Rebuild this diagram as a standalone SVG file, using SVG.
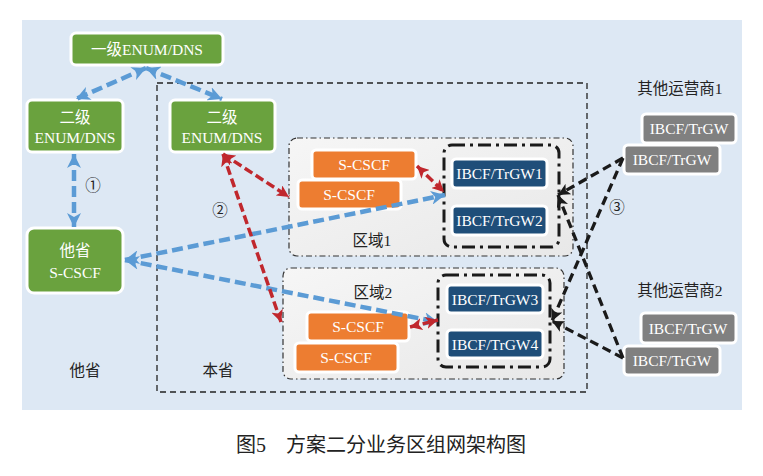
<svg xmlns="http://www.w3.org/2000/svg" width="763" height="476" viewBox="0 0 763 476">
<style>
.t{fill:#fff;font-size:15.5px;text-anchor:middle}
.d{fill:#222;font-size:15.5px;text-anchor:middle}
.g{fill:#6aa23e;stroke:#fff;stroke-width:3}
.o{fill:#ed7d31;stroke:#fff;stroke-width:3}
.b{fill:#1f4e79;stroke:#fff;stroke-width:3}
.y{fill:#808080;stroke:#fff;stroke-width:3}
.region{fill:url(#rg);stroke:#333;stroke-width:1.2;stroke-dasharray:6 3 1.5 3}
.grp{fill:none;stroke:#1a1a1a;stroke-width:3;stroke-dasharray:13 5 3 5}
.blue{stroke:#5b9bd5;stroke-width:4.5;stroke-dasharray:11 5;fill:none}
.red{stroke:#c0272d;stroke-width:3.5;stroke-dasharray:9 4;fill:none}
.blk{stroke:#1a1a1a;stroke-width:3.3;stroke-dasharray:9 5;fill:none}
</style>
<defs>
<linearGradient id="rg" x1="0" y1="0" x2="1" y2="1">
<stop offset="0" stop-color="#f6f6f6"/><stop offset="1" stop-color="#e8e8e8"/>
</linearGradient>
<marker id="ab" markerUnits="userSpaceOnUse" markerWidth="16" markerHeight="14" refX="14" refY="7" orient="auto-start-reverse"><path d="M0,0 L14,7 L0,14 L4,7 Z" fill="#5b9bd5"/></marker>
<marker id="ar" markerUnits="userSpaceOnUse" markerWidth="14" markerHeight="12" refX="12" refY="6" orient="auto-start-reverse"><path d="M0,0 L12,6 L0,12 L3,6 Z" fill="#c0272d"/></marker>
<marker id="ak" markerUnits="userSpaceOnUse" markerWidth="14" markerHeight="12" refX="12" refY="6" orient="auto-start-reverse"><path d="M0,0 L12,6 L0,12 L3,6 Z" fill="#1a1a1a"/></marker>
</defs>
<g font-family="'Liberation Serif', 'Noto Sans CJK SC', serif">
<rect x="22" y="20" width="720" height="390" fill="#dde8f4"/>
<rect x="157" y="83" width="430" height="309" fill="none" stroke="#222" stroke-width="1.3" stroke-dasharray="6 4"/>
<text class="d" x="85" y="376">他省</text>
<text class="d" x="218" y="376">本省</text>

<g id="region1">
<rect class="region" x="289" y="138" width="284" height="118" rx="8"/>
<text class="d" x="372" y="246">区域1</text>
</g>
<g id="region2">
<rect class="region" x="283" y="268" width="281" height="111" rx="8"/>
<text class="d" x="373" y="298">区域2</text>
</g>
<g id="grp1"><rect class="grp" x="444" y="145" width="115" height="102" rx="8"/></g>
<g id="grp2"><rect class="grp" x="438" y="275" width="112" height="92" rx="8"/></g>

<g id="enum1"><rect class="g" x="71" y="33" width="152" height="32" rx="5"/><text class="t" x="147" y="55">一级ENUM/DNS</text></g>
<g id="enum2a"><rect class="g" x="27" y="100" width="96" height="52" rx="5"/><text class="t" x="75" y="123">二级</text><text class="t" x="75" y="143">ENUM/DNS</text></g>
<g id="enum2b"><rect class="g" x="170" y="100" width="105" height="52" rx="5"/><text class="t" x="222" y="123">二级</text><text class="t" x="222" y="143">ENUM/DNS</text></g>
<g id="scscf-other"><rect class="g" x="27" y="228" width="96" height="65" rx="7"/><text class="t" x="75" y="256">他省</text><text class="t" x="75" y="278">S-CSCF</text></g>

<g id="scscf1a"><rect class="o" x="312" y="150" width="104" height="29" rx="4"/><text class="t" x="364" y="170">S-CSCF</text></g>
<g id="scscf1b"><rect class="o" x="298" y="180" width="103" height="29" rx="4"/><text class="t" x="349" y="200">S-CSCF</text></g>
<g id="scscf2a"><rect class="o" x="307" y="312" width="102" height="29" rx="4"/><text class="t" x="358" y="332">S-CSCF</text></g>
<g id="scscf2b"><rect class="o" x="295" y="343" width="103" height="29" rx="4"/><text class="t" x="346" y="363">S-CSCF</text></g>

<g id="gw1"><rect class="b" x="452" y="159" width="95" height="29" rx="4"/><text class="t" x="499.5" y="179">IBCF/TrGW1</text></g>
<g id="gw2"><rect class="b" x="452" y="206" width="95" height="29" rx="4"/><text class="t" x="499.5" y="226">IBCF/TrGW2</text></g>
<g id="gw3"><rect class="b" x="447" y="285" width="96" height="28" rx="4"/><text class="t" x="495" y="305">IBCF/TrGW3</text></g>
<g id="gw4"><rect class="b" x="447" y="330" width="96" height="28" rx="4"/><text class="t" x="495" y="350">IBCF/TrGW4</text></g>

<g id="op1">
<text class="d" x="680" y="94">其他运营商1</text>
<rect class="y" x="642" y="114" width="94" height="29" rx="4"/><text class="t" x="689" y="134">IBCF/TrGW</text>
<rect class="y" x="624" y="145" width="96" height="29" rx="4"/><text class="t" x="672" y="165">IBCF/TrGW</text>
</g>
<g id="op2">
<text class="d" x="680" y="296">其他运营商2</text>
<rect class="y" x="641" y="313" width="95" height="30" rx="4"/><text class="t" x="688" y="334">IBCF/TrGW</text>
<rect class="y" x="624" y="346" width="96" height="29" rx="4"/><text class="t" x="672" y="366">IBCF/TrGW</text>
</g>

<g id="connectors">
<path class="blue" d="M146,68 L76,99" marker-start="url(#ab)" marker-end="url(#ab)"/>
<path class="blue" d="M146,68 L222,99" marker-start="url(#ab)" marker-end="url(#ab)"/>
<path class="blue" d="M74,154 L74,227" marker-start="url(#ab)" marker-end="url(#ab)"/>
<path class="blue" d="M125,260 L445,195" marker-start="url(#ab)" marker-end="url(#ab)"/>
<path class="blue" d="M125,260 L438,322" marker-start="url(#ab)" marker-end="url(#ab)"/>
<path class="red" d="M223,154 L289,197" marker-start="url(#ar)" marker-end="url(#ar)"/>
<path class="red" d="M223,154 L281,322" marker-start="url(#ar)" marker-end="url(#ar)"/>
<path class="red" d="M417,166 L444,192" marker-start="url(#ar)" marker-end="url(#ar)"/>
<path class="red" d="M410,327 L438,320" marker-start="url(#ar)" marker-end="url(#ar)"/>
<path class="blk" d="M623,158 L558,195" marker-end="url(#ak)"/>
<path class="blk" d="M623,158 L552,321" marker-end="url(#ak)"/>
<path class="blk" d="M623,358 L558,195" marker-end="url(#ak)"/>
<path class="blk" d="M623,358 L552,321" marker-end="url(#ak)"/>
<text class="d" x="93" y="191">①</text>
<text class="d" x="220" y="216">②</text>
<text class="d" x="617" y="213">③</text>
</g>

<text x="381" y="452" font-size="20" fill="#222" text-anchor="middle">图5　方案二分业务区组网架构图</text>
</g>
</svg>
